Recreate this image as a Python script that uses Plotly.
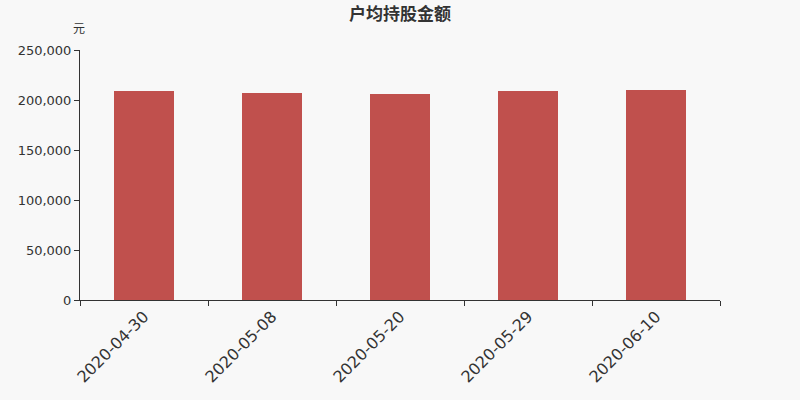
import plotly.graph_objects as go

dates = ['2020-04-30', '2020-05-08', '2020-05-20', '2020-05-29', '2020-06-10']
amounts = [208800, 207000, 206500, 208800, 209800]
y_ticks = [0, 50000, 100000, 150000, 200000, 250000]
y_tick_labels = ['0', '50,000', '100,000', '150,000', '200,000', '250,000']

fig = go.Figure(go.Bar(x=dates, y=amounts, marker=dict(color='#c0504d', line=dict(width=0)),
                       width=60 / 128))

fig.update_layout(
    width=800, height=400,
    paper_bgcolor='#f8f8f8', plot_bgcolor='#f8f8f8',
    margin=dict(l=80, r=80, t=50, b=100, autoexpand=False),
    font=dict(family='Noto Sans CJK SC, DejaVu Sans', color='#333333'),
    title=dict(text='<b>户均持股金额</b>', x=0.5, xanchor='center', y=0.965, yanchor='middle',
               font=dict(size=17, color='#333333')),
    showlegend=False,
    bargap=0,
)
fig.update_xaxes(type='category', showline=True, linecolor='#333333', linewidth=1,
                 ticks='outside', tickson='boundaries', ticklen=5, tickcolor='#333333',
                 tickangle=-45, tickfont=dict(size=16, family='DejaVu Sans', color='#333333'),
                 showgrid=False, automargin=False)
fig.update_yaxes(range=[0, 250000], tickvals=y_ticks, ticktext=y_tick_labels,
                 showline=True, linecolor='#333333', linewidth=1, ticks='outside',
                 ticklen=5, tickcolor='#333333', showgrid=False, zeroline=False,
                 tickfont=dict(size=13, family='DejaVu Sans', color='#333333'),
                 automargin=False)
fig.add_annotation(text='元', xref='paper', yref='paper', x=0, y=1.088, showarrow=False,
                   xanchor='right', yanchor='middle', xshift=7,
                   font=dict(size=12, color='#333333'))

# drop the page's default body margin so the figure sits in the corner
fig.write_html('out.html', config={'displayModeBar': False},
               post_script="document.body.style.margin='0';")
